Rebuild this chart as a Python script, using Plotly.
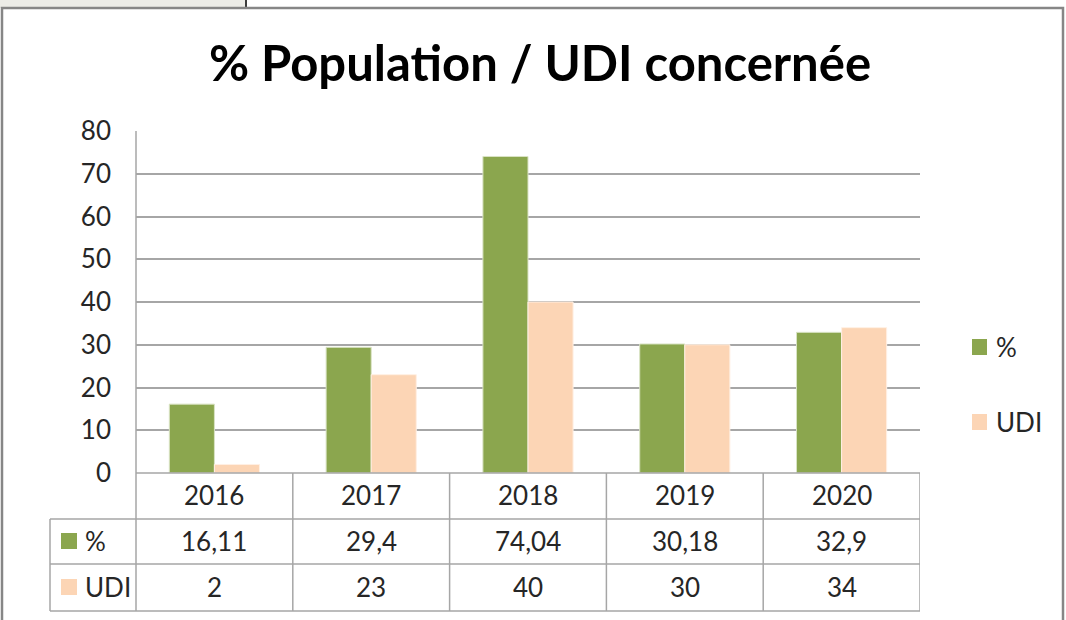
import plotly.graph_objects as go

W, H = 1066, 620

# data
years = ["2016", "2017", "2018", "2019", "2020"]
pct_values = [16.11, 29.4, 74.04, 30.18, 32.9]
udi_values = [2, 23, 40, 30, 34]
series_names = ["%", "UDI"]
y_ticks = [0, 10, 20, 30, 40, 50, 60, 70, 80]

GREEN = "#8BA64E"
PEACH = "#FCD5B5"
GRID = "#A6A6A6"
FONT = "Lato"
TXT = 26


def px(x):
    return x / W


def py(y):
    return 1 - y / H


def fmt(v):
    # french decimal comma, as in the Excel table
    return str(v).replace(".", ",")


fig = go.Figure()
fig.add_trace(go.Bar(x=years, y=pct_values, name=series_names[0],
                     marker=dict(color=GREEN, line=dict(color="#D9E3C4", width=1))))
fig.add_trace(go.Bar(x=years, y=udi_values, name=series_names[1],
                     marker=dict(color=PEACH, line=dict(color="#FFF0E4", width=1))))

fig.update_layout(
    width=W, height=H,
    margin=dict(l=0, r=0, t=0, b=0, pad=0, autoexpand=False),
    paper_bgcolor="white", plot_bgcolor="white",
    barmode="group", bargap=0.425, bargroupgap=0,
    showlegend=False,
    font=dict(family=FONT, color="#262626", size=TXT),
    title=dict(text="<b>% Population / UDI concernée</b>", x=px(540), xanchor="center",
               y=py(64), yanchor="middle", automargin=False,
               font=dict(family=FONT, size=49, color="#000000")),
    xaxis=dict(domain=[px(136), px(920)], showticklabels=False, showgrid=False,
               zeroline=False, showline=False, range=[-0.5, 4.5], automargin=False),
    yaxis=dict(domain=[py(473), py(131)], range=[0, 80], tickvals=y_ticks,
               showgrid=True, gridcolor=GRID, gridwidth=1.5, zeroline=False,
               showline=False, ticks="", ticklabelstandoff=24, automargin=False,
               tickfont=dict(family=FONT, size=TXT, color="#262626")),
)

shapes = []
ann = []

# spreadsheet strip above the chart frame
shapes.append(dict(type="rect", xref="paper", yref="paper", x0=0, x1=px(246), y0=py(8), y1=1,
                   fillcolor="#ECECE7", line=dict(width=0), layer="below"))
shapes.append(dict(type="line", xref="paper", yref="paper", x0=px(246), x1=px(246), y0=py(8), y1=1,
                   line=dict(color="#3C3C3C", width=2)))
# chart frame
shapes.append(dict(type="rect", xref="paper", yref="paper", x0=px(2), x1=px(1063), y0=-0.05, y1=py(8),
                   line=dict(color="#868686", width=2.5)))

line = dict(color=GRID, width=1.5)
# vertical axis line down through the table
shapes.append(dict(type="line", xref="paper", yref="paper", x0=px(136), x1=px(136),
                   y0=py(611), y1=py(131), line=line))
shapes.append(dict(type="line", xref="paper", yref="paper", x0=px(50), x1=px(50),
                   y0=py(611), y1=py(519), line=line))
# horizontal table lines
shapes.append(dict(type="line", xref="paper", yref="paper", x0=px(136), x1=px(920),
                   y0=py(473), y1=py(473), line=line))
for yy in [519, 564, 611]:
    shapes.append(dict(type="line", xref="paper", yref="paper", x0=px(50), x1=px(920),
                       y0=py(yy), y1=py(yy), line=line))
# column separators
for i in range(len(years)):
    shapes.append(dict(type="line", xref="x", yref="paper", x0=i + 0.5, x1=i + 0.5,
                       y0=py(611), y1=py(473), line=line))


def cell(x, y, text, xref="x", xanchor="center"):
    return dict(x=x, y=y, xref=xref, yref="paper", text=text, showarrow=False,
                xanchor=xanchor, yanchor="middle")


# table contents
for i, yr in enumerate(years):
    ann.append(cell(i, py(495), yr))
    ann.append(cell(i, py(541), fmt(pct_values[i])))
    ann.append(cell(i, py(587), fmt(udi_values[i])))

# table row keys
for name, col, yc in [(series_names[0], GREEN, 541), (series_names[1], PEACH, 587)]:
    shapes.append(dict(type="rect", xref="paper", yref="paper", x0=px(61), x1=px(77),
                       y0=py(yc + 8), y1=py(yc - 8), fillcolor=col, line=dict(width=0)))
    ann.append(cell(px(83), py(yc), name, xref="paper", xanchor="left"))

# legend on the right
for name, col, yc in [(series_names[0], GREEN, 347), (series_names[1], PEACH, 422)]:
    shapes.append(dict(type="rect", xref="paper", yref="paper", x0=px(972), x1=px(987),
                       y0=py(yc + 8), y1=py(yc - 8), fillcolor=col, line=dict(width=0)))
    ann.append(cell(px(994), py(yc), name, xref="paper", xanchor="left"))

fig.update_layout(shapes=shapes, annotations=ann)
fig.write_html("out.html", config={"displayModeBar": False},
               post_script="document.body.style.margin='0';")
